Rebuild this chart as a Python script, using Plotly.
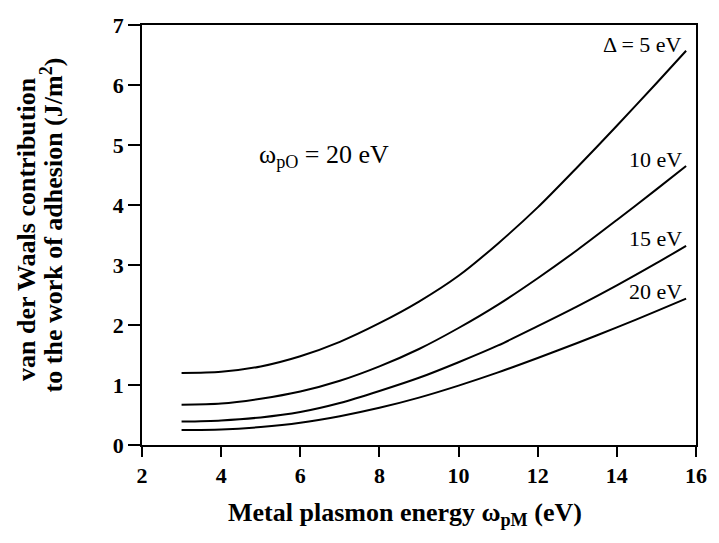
import plotly.graph_objects as go

# Metal plasmon energy (eV)
x_vals = [3, 4, 5, 6, 7, 8, 9, 10, 11, 12, 13, 14, 15, 15.75]
# van der Waals contribution (J/m^2) for different Delta
y_d5 = [1.20, 1.22, 1.31, 1.48, 1.72, 2.03, 2.39, 2.82, 3.36, 3.96, 4.63, 5.32, 6.03, 6.57]
y_d10 = [0.67, 0.69, 0.77, 0.89, 1.07, 1.31, 1.60, 1.95, 2.34, 2.78, 3.25, 3.75, 4.26, 4.65]
y_d15 = [0.39, 0.41, 0.46, 0.55, 0.70, 0.90, 1.12, 1.38, 1.66, 1.98, 2.31, 2.66, 3.03, 3.32]
y_d20 = [0.25, 0.26, 0.30, 0.37, 0.48, 0.62, 0.79, 0.99, 1.21, 1.45, 1.70, 1.96, 2.23, 2.44]

series = [y_d5, y_d10, y_d15, y_d20]
curve_labels = ["Δ = 5 eV", "10 eV", "15 eV", "20 eV"]
label_y = [6.68, 4.76, 3.44, 2.56]

x_ticks = [2, 4, 6, 8, 10, 12, 14, 16]
y_ticks = [0, 1, 2, 3, 4, 5, 6, 7]

SERIF = "Liberation Serif"

fig = go.Figure()
for ys in series:
    fig.add_trace(go.Scatter(x=x_vals, y=ys, mode="lines",
                             line=dict(color="black", width=2, shape="spline", smoothing=0.8),
                             showlegend=False, hoverinfo="skip"))

for lab, ly in zip(curve_labels, label_y):
    fig.add_annotation(x=15.7, y=ly, xref="x", yref="y", text=lab, showarrow=False,
                       xanchor="right", yanchor="middle",
                       font=dict(family=SERIF, size=22, color="black"))

fig.add_annotation(x=4.9, y=4.82, xref="x", yref="y",
                   text="ω<sub>pO</sub> = 20 eV", showarrow=False,
                   xanchor="left", yanchor="middle",
                   font=dict(family=SERIF, size=26, color="black"))

# y-axis title, two lines
fig.add_annotation(x=-0.2096, y=0.514, xref="paper", yref="paper",
                   text="<b>van der Waals contribution</b>",
                   showarrow=False, textangle=-90, xanchor="center", yanchor="middle",
                   font=dict(family=SERIF, size=26, color="black"))
fig.add_annotation(x=-0.1616, y=0.524, xref="paper", yref="paper",
                   text="<b>to the work of adhesion (J/m<sup>2</sup>)</b>",
                   showarrow=False, textangle=-90, xanchor="center", yanchor="middle",
                   font=dict(family=SERIF, size=26, color="black"))

fig.add_annotation(x=0.474, y=-0.165, xref="paper", yref="paper",
                   text="<b>Metal plasmon energy ω<sub>pM</sub> (eV)</b>",
                   showarrow=False, xanchor="center", yanchor="middle",
                   font=dict(family=SERIF, size=26, color="black"))

axis_font = dict(family=SERIF, size=22, color="black")
fig.update_xaxes(range=[2, 16], tickvals=x_ticks, ticktext=[f"<b>{t}</b>" for t in x_ticks],
                 showline=True, linecolor="black", linewidth=1.5, mirror=True,
                 ticks="outside", ticklen=10, tickwidth=1.5, tickcolor="black",
                 showgrid=False, zeroline=False, tickfont=axis_font,
                 ticklabeloverflow="allow")
fig.update_yaxes(range=[0, 7], tickvals=y_ticks, ticktext=[f"<b>{t}</b>" for t in y_ticks],
                 showline=True, linecolor="black", linewidth=1.5, mirror=True,
                 ticks="outside", ticklen=12, tickwidth=1.5, tickcolor="black",
                 showgrid=False, zeroline=False, tickfont=axis_font,
                 ticklabeloverflow="allow")

fig.update_layout(width=719, height=543, plot_bgcolor="white", paper_bgcolor="white",
                  margin=dict(l=142, r=14, t=25, b=98), showlegend=False)

fig.write_html(
    "out.html",
    config={"displayModeBar": False},
    post_script="document.body.style.margin='0';document.body.style.padding='0';"
                "document.body.style.overflow='hidden';",
)
